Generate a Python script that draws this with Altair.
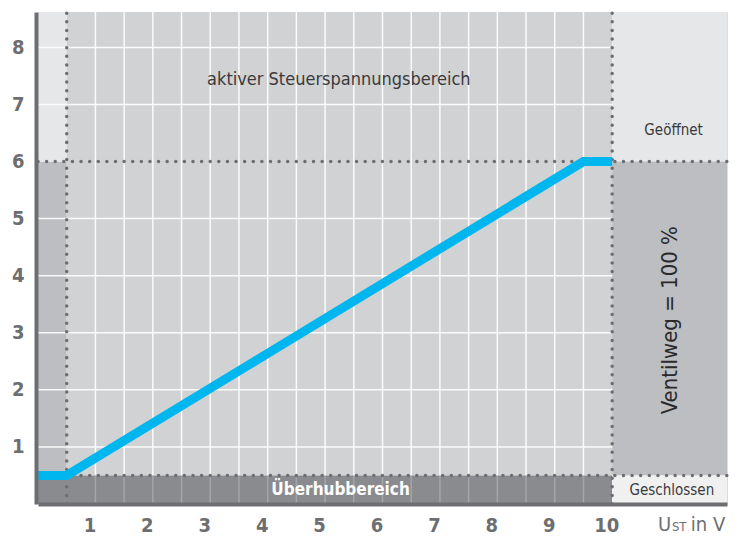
import altair as alt
import pandas as pd

# ---------------- data ----------------
X_MAX = 12
Y_MAX = 8.62

x_ticks = [1, 2, 3, 4, 5, 6, 7, 8, 9, 10]
y_ticks = [1, 2, 3, 4, 5, 6, 7, 8]

# characteristic curve: control voltage (V) -> valve position
curve_u = [0, 0.5, 9.5, 10]
curve_pos = [0.5, 0.5, 6, 6]

# background zones
zone_x0 = [0, 0, 0.5, 0, 10, 10, 10]
zone_x1 = [0.5, 0.5, 10, 10, 12, 12, 12]
zone_y0 = [0.5, 6, 0.5, 0, 6, 0.5, 0]
zone_y1 = [6, Y_MAX, Y_MAX, 0.5, Y_MAX, 6, 0.5]
zone_fill = ["#bdbec1", "#e6e7e8", "#d1d2d4", "#8a8b8e", "#e6e7e8", "#bdbec1", "#f0f0f1"]

grid_x = [1.0, 1.5, 2.0, 2.5, 3.0, 3.5, 4.0, 4.5, 5.0, 5.5, 6.0, 6.5, 7.0, 7.5, 8.0, 8.5, 9.0, 9.5]
grid_y = [1, 2, 3, 4, 5, 7, 8]

limit_u = [0.5, 10]
limit_pos = [0.5, 6]

label_texts = ["aktiver Steuerspannungsbereich", "Geöffnet", "Geschlossen", "Überhubbereich"]
label_u = [5.24, 11.07, 11.04, 5.27]
label_pos = [7.42, 6.56, 0.25, 0.25]

ventil_text = ["Ventilweg = 100 %"]
ventil_u = [11.0]
ventil_pos = [3.22]

unit_parts = ["U", "ST", "in V"]
unit_u = [10.80, 11.04, 11.37]
unit_pos = [-0.47, -0.47, -0.47]

# ---------------- styling helpers ----------------
FONT = "DejaVu Sans Condensed, Roboto"
GREY = "#6d6e71"

xscale = alt.Scale(domain=[0, X_MAX], nice=False, zero=False)
yscale = alt.Scale(domain=[0, Y_MAX], nice=False, zero=False)

xaxis = alt.Axis(values=x_ticks, labelFontSize=20, labelFontWeight="bold", labelColor=GREY,
                 labelFont=FONT, domainColor=GREY, domainWidth=4, ticks=False, grid=False,
                 labelPadding=11, labelOffset=-6, title=None, zindex=1, labelFlush=False)
yaxis = alt.Axis(values=y_ticks, labelFontSize=20, labelFontWeight="bold", labelColor=GREY,
                 labelFont=FONT, domainColor=GREY, domainWidth=4, ticks=False, grid=False,
                 labelPadding=12, offset=2, title=None, zindex=1)


def X(f):
    return alt.X(f, type="quantitative", scale=xscale, axis=xaxis)


def Y(f):
    return alt.Y(f, type="quantitative", scale=yscale, axis=yaxis)


zones = pd.DataFrame({"x0": zone_x0, "x1": zone_x1, "y0": zone_y0, "y1": zone_y1, "fill": zone_fill})
zone_layer = alt.Chart(zones).mark_rect().encode(
    x=X("x0"), x2="x1", y=Y("y0"), y2="y1", color=alt.Color("fill:N", scale=None)
)

vgrid = pd.DataFrame({"x": grid_x, "y0": [0.5] * len(grid_x), "y1": [Y_MAX] * len(grid_x)})
vgrid_layer = alt.Chart(vgrid).mark_rule(color="white", strokeWidth=1.5, opacity=0.9).encode(
    x=X("x"), y=Y("y0"), y2="y1"
)
bgrid = pd.DataFrame({"x": grid_x, "y0": [0] * len(grid_x), "y1": [0.5] * len(grid_x)})
bgrid_layer = alt.Chart(bgrid).mark_rule(color="#a4a5a8", strokeWidth=1.5).encode(
    x=X("x"), y=Y("y0"), y2="y1"
)
hgrid = pd.DataFrame({"y": grid_y, "x0": [0] * len(grid_y), "x1": [10] * len(grid_y)})
hgrid_layer = alt.Chart(hgrid).mark_rule(color="white", strokeWidth=1.5, opacity=0.9).encode(
    y=Y("y"), x=X("x0"), x2="x1"
)

dot_style = dict(color=GREY, strokeWidth=3.5, strokeDash=[0.01, 8.6], strokeCap="round")
hdots = pd.DataFrame({"y": limit_pos, "x0": [0, 0], "x1": [X_MAX, X_MAX]})
hdot_layer = alt.Chart(hdots).mark_rule(**dot_style).encode(y=Y("y"), x=X("x0"), x2="x1")
vdots = pd.DataFrame({"x": limit_u, "y0": [0, 0], "y1": [Y_MAX, Y_MAX]})
vdot_layer = alt.Chart(vdots).mark_rule(**dot_style).encode(x=X("x"), y=Y("y0"), y2="y1")

curve = pd.DataFrame({"u": curve_u, "pos": curve_pos})
curve_layer = alt.Chart(curve).mark_line(color="#00b6ee", strokeWidth=9, strokeCap="butt",
                                         strokeJoin="miter").encode(x=X("u"), y=Y("pos"))

lab = pd.DataFrame({"t": label_texts, "u": label_u, "pos": label_pos})
t1 = alt.Chart(lab.iloc[[0]]).mark_text(font=FONT, fontSize=18, color="#3a3a3c").encode(
    x=X("u"), y=Y("pos"), text="t:N")
t2 = alt.Chart(lab.iloc[[1, 2]]).mark_text(font=FONT, fontSize=15, color="#3a3a3c").encode(
    x=X("u"), y=Y("pos"), text="t:N")
t3 = alt.Chart(lab.iloc[[3]]).mark_text(font=FONT, fontSize=17, fontWeight="bold", color="white").encode(
    x=X("u"), y=Y("pos"), text="t:N")

vent = pd.DataFrame({"t": ventil_text, "u": ventil_u, "pos": ventil_pos})
t4 = alt.Chart(vent).mark_text(font=FONT, fontSize=22, angle=270, color="#2a2a2c").encode(
    x=X("u"), y=Y("pos"), text="t:N")

unit = pd.DataFrame({"t": unit_parts, "u": unit_u, "pos": unit_pos})
u1 = alt.Chart(unit.iloc[[0]]).mark_text(font=FONT, fontSize=20, color=GREY, align="left",
                                         baseline="alphabetic", clip=False).encode(
    x=X("u"), y=Y("pos"), text="t:N")
u2 = alt.Chart(unit.iloc[[1]]).mark_text(font=FONT, fontSize=13, color=GREY, align="left",
                                         baseline="alphabetic", clip=False).encode(
    x=X("u"), y=Y("pos"), text="t:N")
u3 = alt.Chart(unit.iloc[[2]]).mark_text(font=FONT, fontSize=20, color=GREY, align="left",
                                         baseline="alphabetic", clip=False).encode(
    x=X("u"), y=Y("pos"), text="t:N")

chart = alt.layer(
    zone_layer, vgrid_layer, bgrid_layer, hgrid_layer, hdot_layer, vdot_layer,
    curve_layer, t1, t2, t3, t4, u1, u2, u3
).properties(
    width=689, height=492,
    autosize=alt.AutoSizeParams(type="none"),
    padding={"left": 30, "top": 4, "right": 7, "bottom": 34},
).configure_view(stroke=None).configure(background="white")

chart.save("out.html", embed_options={"renderer": "svg", "actions": False})
